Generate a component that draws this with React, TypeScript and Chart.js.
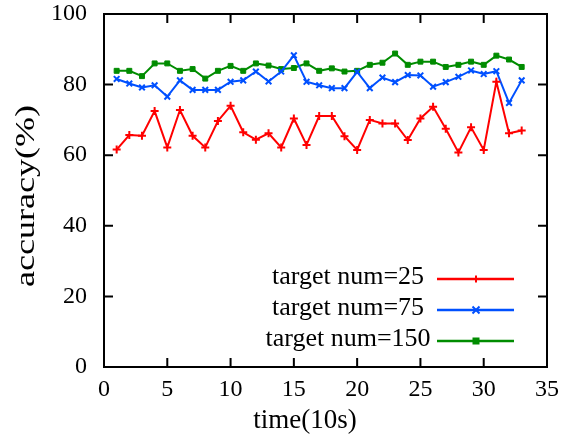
import React, { useEffect, useRef } from "react";
import { Chart, registerables } from "chart.js";

Chart.register(...registerables);

const timeSteps = [1, 2, 3, 4, 5, 6, 7, 8, 9, 10, 11, 12, 13, 14, 15, 16, 17, 18, 19, 20, 21, 22, 23, 24, 25, 26, 27, 28, 29, 30, 31, 32, 33];
const acc25 = [61.6, 65.7, 65.5, 72.5, 62.2, 72.8, 65.5, 62.2, 69.7, 74, 66.5, 64.4, 66.2, 62.2, 70.4, 62.9, 71.1, 71.1, 65.4, 61.5, 70, 69, 69, 64.3, 70.4, 73.7, 67.5, 60.8, 67.9, 61.5, 80.8, 66.2, 67];
const acc75 = [81.6, 80.3, 79.2, 79.8, 76.6, 81.2, 78.5, 78.5, 78.5, 80.8, 81.2, 83.7, 80.9, 83.7, 88.3, 80.8, 79.8, 79, 79, 83.6, 79, 82, 80.7, 82.7, 82.6, 79.4, 80.7, 82.2, 84, 83, 83.8, 74.8, 81.2];
const acc150 = [83.9, 83.9, 82.4, 86, 86, 83.9, 84.4, 81.7, 83.9, 85.3, 83.9, 86, 85.4, 84.4, 84.7, 86, 83.9, 84.6, 83.7, 83.9, 85.6, 86.2, 88.8, 85.6, 86.5, 86.5, 85, 85.6, 86.5, 85.6, 88.2, 87.1, 85];
const xTicks = [0, 5, 10, 15, 20, 25, 30, 35];
const yTicks = [0, 20, 40, 60, 80, 100];
const seriesLabels = ["target num=25", "target num=75", "target num=150"];
const xTitle = "time(10s)";
const yTitle = "accuracy(%)";

const FONT = "'Liberation Serif', 'Times New Roman', serif";
const RED = "#ff0000";
const BLUE = "#0050ff";
const GREEN = "#008c00";

function drawMarker(ctx: CanvasRenderingContext2D, style: string, x: number, y: number, r: number, color: string) {
  ctx.save();
  ctx.strokeStyle = color;
  ctx.fillStyle = color;
  ctx.lineWidth = 2;
  ctx.beginPath();
  if (style === "cross") {
    ctx.moveTo(x - r, y); ctx.lineTo(x + r, y);
    ctx.moveTo(x, y - r); ctx.lineTo(x, y + r);
    ctx.stroke();
  } else if (style === "crossRot") {
    ctx.moveTo(x - r, y - r); ctx.lineTo(x + r, y + r);
    ctx.moveTo(x - r, y + r); ctx.lineTo(x + r, y - r);
    ctx.stroke();
  } else {
    ctx.fillRect(x - r, y - r, 2 * r, 2 * r);
  }
  ctx.restore();
}

const framePlugin = {
  id: "frameAndText",
  afterDraw(chart: any) {
    const ctx: CanvasRenderingContext2D = chart.ctx;
    const { left, right, top, bottom } = chart.chartArea;
    const xs = chart.scales.x;
    const ys = chart.scales.y;
    ctx.save();
    ctx.strokeStyle = "#000";
    ctx.lineWidth = 2;
    ctx.strokeRect(left, top, right - left, bottom - top);
    const tl = 9;
    ctx.beginPath();
    xTicks.forEach((v) => {
      const px = xs.getPixelForValue(v);
      ctx.moveTo(px, bottom); ctx.lineTo(px, bottom - tl);
      ctx.moveTo(px, top); ctx.lineTo(px, top + tl);
    });
    yTicks.forEach((v) => {
      const py = ys.getPixelForValue(v);
      ctx.moveTo(left, py); ctx.lineTo(left + tl, py);
      ctx.moveTo(right, py); ctx.lineTo(right - tl, py);
    });
    ctx.stroke();

    // x title
    ctx.fillStyle = "#000";
    ctx.font = `27px ${FONT}`;
    ctx.textAlign = "center";
    ctx.textBaseline = "middle";
    ctx.fillText(xTitle, 305, 421);

    // y title (stretched along its length)
    ctx.save();
    ctx.translate(27, 196);
    ctx.rotate(-Math.PI / 2);
    ctx.font = `27px ${FONT}`;
    const w = ctx.measureText(yTitle).width;
    ctx.scale(182 / w, 1);
    ctx.textAlign = "center";
    ctx.textBaseline = "middle";
    ctx.fillText(yTitle, 0, 0);
    ctx.restore();

    // legend
    const rows = [279, 310, 341];
    chart.data.datasets.forEach((ds: any, i: number) => {
      const y = rows[i];
      ctx.fillStyle = "#000";
      ctx.font = `26px ${FONT}`;
      ctx.textAlign = "center";
      ctx.textBaseline = "alphabetic";
      ctx.fillText(ds.label, 348, y + 5);
      ctx.strokeStyle = ds.borderColor;
      ctx.lineWidth = 2.5;
      ctx.beginPath();
      ctx.moveTo(437, y);
      ctx.lineTo(514, y);
      ctx.stroke();
      drawMarker(ctx, ds.pointStyle, 476, y, 3.5, ds.borderColor);
    });
    ctx.restore();
  },
};

export default function App() {
  const ref = useRef<HTMLCanvasElement | null>(null);
  useEffect(() => {
    document.body.style.margin = "0";
    if (!ref.current) return;
    const mk = (vals: number[]) => timeSteps.map((t, i) => ({ x: t, y: vals[i] }));
    const chart = new Chart(ref.current, {
      type: "line",
      data: {
        datasets: [
          { label: seriesLabels[0], data: mk(acc25), borderColor: RED, backgroundColor: RED, borderWidth: 2, pointStyle: "cross", pointRadius: 4, pointBorderWidth: 2, tension: 0 },
          { label: seriesLabels[1], data: mk(acc75), borderColor: BLUE, backgroundColor: BLUE, borderWidth: 2, pointStyle: "crossRot", pointRadius: 4, pointBorderWidth: 2, tension: 0 },
          { label: seriesLabels[2], data: mk(acc150), borderColor: GREEN, backgroundColor: GREEN, borderWidth: 2, pointStyle: "rect", pointRadius: 3.5, pointBorderWidth: 1, tension: 0 },
        ] as any,
      },
      options: {
        animation: false,
        responsive: false,
        layout: { padding: { top: 14, right: 20, left: 0, bottom: 0 } },
        plugins: { legend: { display: false }, tooltip: { enabled: false } },
        scales: {
          x: {
            type: "linear",
            min: 0,
            max: 35,
            afterBuildTicks: (s: any) => { s.ticks = xTicks.map((v) => ({ value: v })); },
            afterFit: (s: any) => { s.height = 72; s.paddingLeft = 0; s.paddingRight = 0; },
            grid: { display: false, drawTicks: false },
            border: { display: false },
            ticks: { color: "#000", padding: 8, font: { family: FONT, size: 24 }, maxRotation: 0, autoSkip: false },
          },
          y: {
            type: "linear",
            min: 0,
            max: 100,
            afterBuildTicks: (s: any) => { s.ticks = yTicks.map((v) => ({ value: v })); },
            afterFit: (s: any) => { s.width = 104; s.paddingTop = 0; s.paddingBottom = 0; },
            grid: { display: false, drawTicks: false },
            border: { display: false },
            ticks: { color: "#000", padding: 17, font: { family: FONT, size: 24 }, autoSkip: false },
          },
        },
      },
      plugins: [framePlugin],
    });
    return () => chart.destroy();
  }, []);
  return (
    <div style={{ width: 567, height: 439 }}>
      <canvas ref={ref} width={567} height={439} style={{ display: "block" }} />
    </div>
  );
}
